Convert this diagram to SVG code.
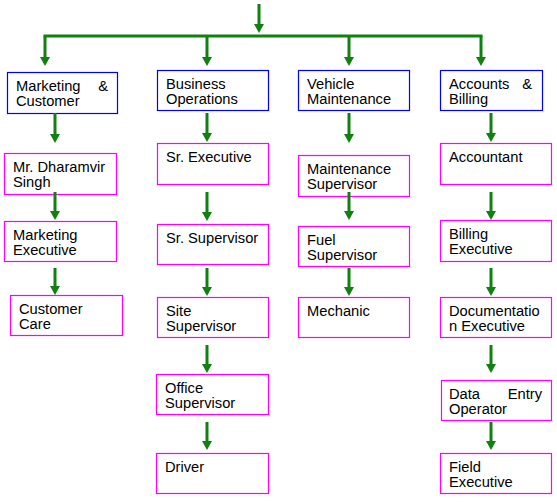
<svg xmlns="http://www.w3.org/2000/svg" width="557" height="502" viewBox="0 0 557 502">
<style>
.b{fill:#fff;stroke:#0000ff;stroke-width:1.2}
.m{fill:#fff;stroke:#ff00ff;stroke-width:1.2}
text{font-family:"Liberation Sans",Arial,sans-serif;font-size:14.7px;fill:#000}
.e{text-anchor:end}
.c line,.c path{stroke:#108010;stroke-width:3;fill:none}
</style>
<defs>
<marker id="ah" markerUnits="userSpaceOnUse" markerWidth="10" markerHeight="10" viewBox="0 0 10 10" refX="0" refY="5" orient="auto">
<path d="M0,0 L9,5 L0,10 z" fill="#108010" stroke="none"/>
</marker>
</defs>
<rect width="557" height="502" fill="#fff"/>
<g id="marketing-customer"><rect class="b" x="7.5" y="72.5" width="110" height="41"/><text x="16" y="91">Marketing</text><text class="e" x="108" y="91">&amp;</text><text x="16" y="106">Customer</text></g>
<g id="business-operations"><rect class="b" x="157.5" y="70.5" width="111" height="40"/><text x="166" y="89">Business</text><text x="166" y="104">Operations</text></g>
<g id="vehicle-maintenance"><rect class="b" x="298.5" y="70.5" width="111" height="40"/><text x="307" y="89">Vehicle</text><text x="307" y="104">Maintenance</text></g>
<g id="accounts-billing"><rect class="b" x="440.5" y="70.5" width="102" height="40"/><text x="449" y="89">Accounts</text><text class="e" x="532" y="89">&amp;</text><text x="449" y="104">Billing</text></g>
<g id="dharamvir"><rect class="m" x="4.5" y="153.5" width="112" height="41"/><text x="13" y="172">Mr. Dharamvir</text><text x="13" y="187">Singh</text></g>
<g id="marketing-executive"><rect class="m" x="4.5" y="221.5" width="112" height="40"/><text x="13" y="240">Marketing</text><text x="13" y="255">Executive</text></g>
<g id="customer-care"><rect class="m" x="10.5" y="295.5" width="112" height="40"/><text x="19" y="314">Customer</text><text x="19" y="329">Care</text></g>
<g id="sr-executive"><rect class="m" x="157.5" y="143.5" width="111" height="41"/><text x="166" y="162">Sr. Executive</text></g>
<g id="sr-supervisor"><rect class="m" x="157.5" y="224.5" width="111" height="40"/><text x="166" y="243">Sr. Supervisor</text></g>
<g id="site-supervisor"><rect class="m" x="157.5" y="297.5" width="111" height="40"/><text x="166" y="316">Site</text><text x="166" y="331">Supervisor</text></g>
<g id="office-supervisor"><rect class="m" x="156.5" y="374.5" width="112" height="40"/><text x="165" y="393">Office</text><text x="165" y="408">Supervisor</text></g>
<g id="driver"><rect class="m" x="156.5" y="453.5" width="112" height="40"/><text x="165" y="472">Driver</text></g>
<g id="maintenance-supervisor"><rect class="m" x="298.5" y="155.5" width="111" height="41"/><text x="307" y="174">Maintenance</text><text x="307" y="189">Supervisor</text></g>
<g id="fuel-supervisor"><rect class="m" x="298.5" y="226.5" width="111" height="40"/><text x="307" y="245">Fuel</text><text x="307" y="260">Supervisor</text></g>
<g id="mechanic"><rect class="m" x="298.5" y="297.5" width="111" height="40"/><text x="307" y="316">Mechanic</text></g>
<g id="accountant"><rect class="m" x="440.5" y="143.5" width="111" height="41"/><text x="449" y="162">Accountant</text></g>
<g id="billing-executive"><rect class="m" x="440.5" y="220.5" width="111" height="41"/><text x="449" y="239">Billing</text><text x="449" y="254">Executive</text></g>
<g id="documentation-executive"><rect class="m" x="440.5" y="297.5" width="111" height="40"/><text x="449" y="316">Documentatio</text><text x="449" y="331">n Executive</text></g>
<g id="data-entry-operator"><rect class="m" x="441.5" y="380.5" width="110" height="40"/><text x="449" y="399">Data</text><text class="e" x="542" y="399">Entry</text><text x="449" y="414">Operator</text></g>
<g id="field-executive"><rect class="m" x="440.5" y="453.5" width="111" height="40"/><text x="449" y="472">Field</text><text x="449" y="487">Executive</text></g>
<g class="c" id="connectors">
<line x1="259" y1="4" x2="259" y2="24" marker-end="url(#ah)"/>
<path d="M43.5,36 H482.5"/>
<line x1="45" y1="36" x2="45" y2="57" marker-end="url(#ah)"/>
<line x1="207" y1="36" x2="207" y2="57" marker-end="url(#ah)"/>
<line x1="349" y1="36" x2="349" y2="57" marker-end="url(#ah)"/>
<line x1="481" y1="36" x2="481" y2="57" marker-end="url(#ah)"/>
<line x1="55" y1="113" x2="55" y2="134" marker-end="url(#ah)"/>
<line x1="55" y1="192" x2="55" y2="211" marker-end="url(#ah)"/>
<line x1="55" y1="268" x2="55" y2="286" marker-end="url(#ah)"/>
<line x1="207" y1="113" x2="207" y2="133" marker-end="url(#ah)"/>
<line x1="207" y1="192" x2="207" y2="212" marker-end="url(#ah)"/>
<line x1="207" y1="268" x2="207" y2="287" marker-end="url(#ah)"/>
<line x1="207" y1="345" x2="207" y2="364" marker-end="url(#ah)"/>
<line x1="207" y1="422" x2="207" y2="441" marker-end="url(#ah)"/>
<line x1="349" y1="113" x2="349" y2="134" marker-end="url(#ah)"/>
<line x1="349" y1="192" x2="349" y2="211" marker-end="url(#ah)"/>
<line x1="349" y1="268" x2="349" y2="287" marker-end="url(#ah)"/>
<line x1="491" y1="113" x2="491" y2="133" marker-end="url(#ah)"/>
<line x1="491" y1="192" x2="491" y2="211" marker-end="url(#ah)"/>
<line x1="491" y1="268" x2="491" y2="287" marker-end="url(#ah)"/>
<line x1="491" y1="345" x2="491" y2="364" marker-end="url(#ah)"/>
<line x1="491" y1="422" x2="491" y2="441" marker-end="url(#ah)"/>
</g>
</svg>
